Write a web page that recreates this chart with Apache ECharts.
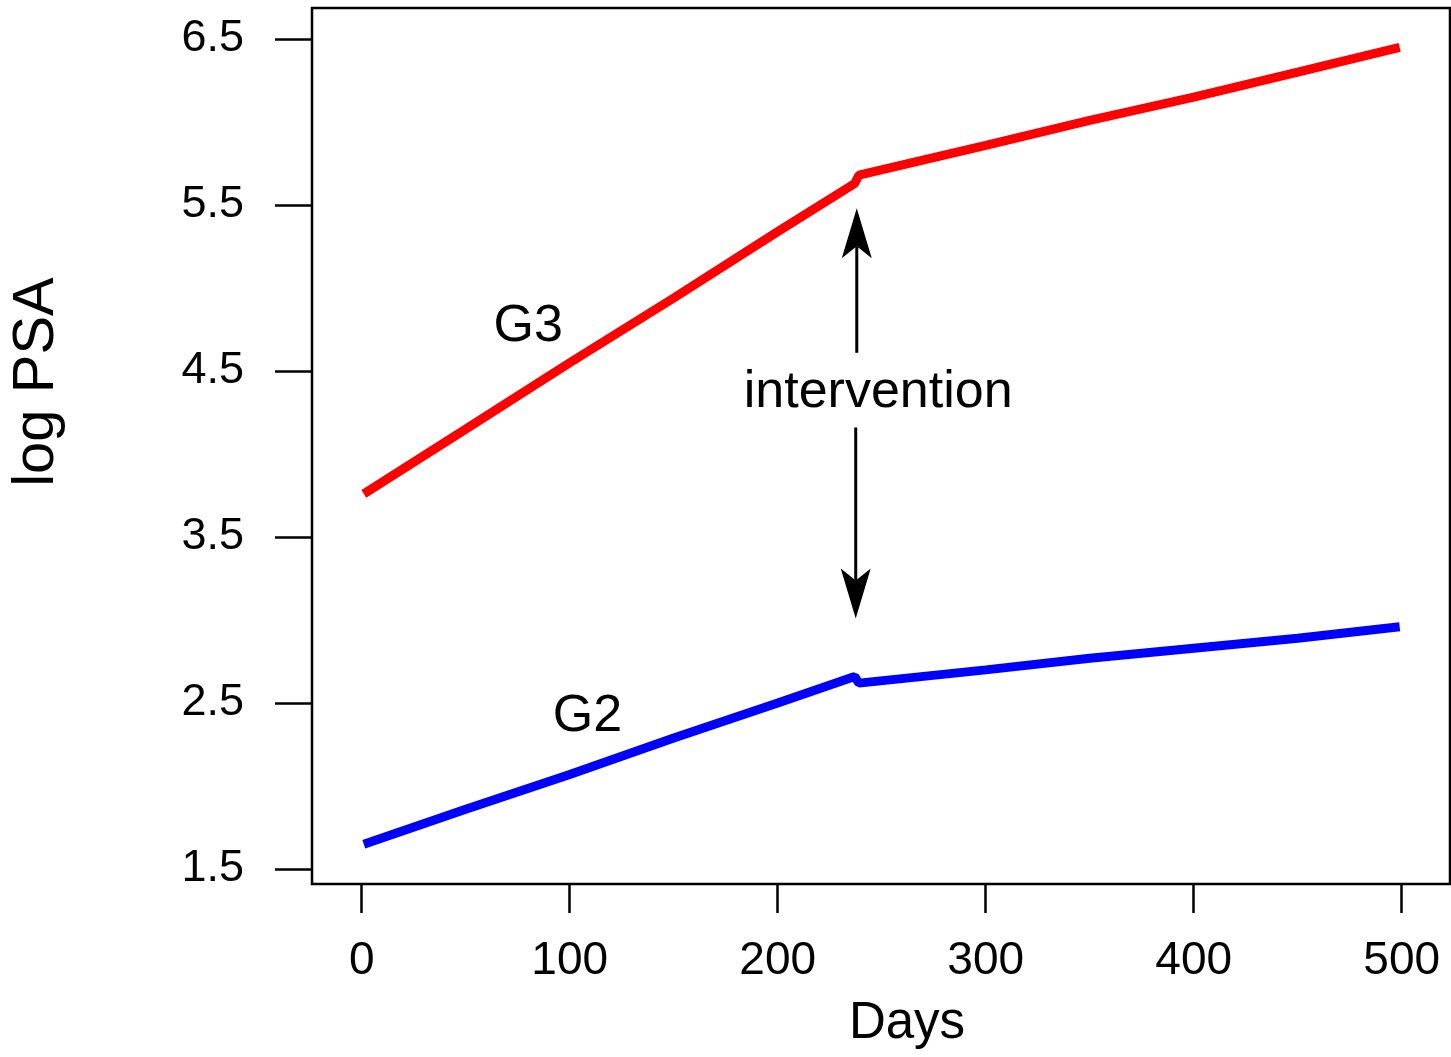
<!DOCTYPE html>
<html>
<head>
<meta charset="utf-8">
<script src="https://cdn.jsdelivr.net/npm/echarts@6/dist/echarts.min.js"></script>
<style>
  html, body { margin: 0; padding: 0; background: #fff; }
  #chart { width: 1451px; height: 1057px; }
</style>
</head>
<body>
<div id="chart"></div>
<script>
// values (day, log PSA)
const days = [1, 50, 100, 150, 200, 237, 239, 300, 350, 400, 450, 499];
const g3Values = [3.76, 4.15, 4.55, 4.94, 5.34, 5.63, 5.68, 5.86, 6.01, 6.15, 6.30, 6.45];
const g2Values = [1.65, 1.86, 2.07, 2.29, 2.50, 2.66, 2.62, 2.70, 2.77, 2.83, 2.89, 2.96];

const xTicks = [0, 100, 200, 300, 400, 500];
const yTicks = [1.5, 2.5, 3.5, 4.5, 5.5, 6.5];

// text notes inside the plot
const noteText = ['G3', 'G2', 'intervention'];
const noteDay = [80, 108.5, 248.3];
const noteValue = [4.77, 2.42, 4.37];

// arrows pointing at the intervention
const arrowDay = [238, 237.5];
const arrowFrom = [4.61, 4.16];
const arrowTo = [5.48, 3.01];

const tickFont = '"Liberation Sans Narrow", "Arial Narrow", "Liberation Sans", sans-serif';
const textFont = '"Liberation Sans", Arial, sans-serif';

const chart = echarts.init(document.getElementById('chart'));

const renderArrow = (params, api) => {
  const p0 = api.coord([api.value(0), api.value(1)]);
  const p1 = api.coord([api.value(0), api.value(2)]);
  const dx = p1[0] - p0[0];
  const dy = p1[1] - p0[1];
  const len = Math.sqrt(dx * dx + dy * dy);
  const ux = dx / len, uy = dy / len;
  const headLen = 50, headHalf = 15, notch = 38;
  const back = (d, side) => [p1[0] - ux * d - uy * side, p1[1] - uy * d + ux * side];
  return {
    type: 'group',
    children: [
      {
        type: 'line',
        shape: { x1: p0[0], y1: p0[1], x2: back(notch, 0)[0], y2: back(notch, 0)[1] },
        style: { stroke: '#000', lineWidth: 3 }
      },
      {
        type: 'polygon',
        shape: { points: [p1, back(headLen, headHalf), back(notch, 0), back(headLen, -headHalf)] },
        style: { fill: '#000' }
      }
    ]
  };
};

const option = {
  animation: false,
  backgroundColor: '#fff',
  grid: {
    left: 312,
    top: 8,
    width: 1138,
    height: 876,
    show: true,
    borderColor: '#000',
    borderWidth: 2.5,
    backgroundColor: 'transparent'
  },
  xAxis: {
    type: 'value',
    min: -23.9,
    max: 523.2,
    splitLine: { show: false },
    axisLine: { show: false, onZero: false },
    axisTick: {
      show: true,
      customValues: xTicks,
      length: 29,
      lineStyle: { color: '#000', width: 2.5 }
    },
    axisLabel: {
      customValues: xTicks,
      margin: 54,
      color: '#000',
      fontSize: 46,
      fontFamily: tickFont
    }
  },
  yAxis: {
    type: 'value',
    min: 1.41,
    max: 6.687,
    splitLine: { show: false },
    axisLine: { show: false, onZero: false },
    axisTick: {
      show: true,
      customValues: yTicks,
      length: 37,
      lineStyle: { color: '#000', width: 2.5 }
    },
    axisLabel: {
      customValues: yTicks,
      margin: 68,
      color: '#000',
      fontSize: 45,
      fontFamily: tickFont,
      formatter: v => v.toFixed(1)
    }
  },
  graphic: [
    {
      type: 'text',
      x: 37,
      y: 382,
      rotation: Math.PI / 2,
      style: {
        text: 'log PSA',
        fontSize: 58,
        fontFamily: textFont,
        fill: '#000',
        align: 'center',
        verticalAlign: 'middle'
      }
    },
    {
      type: 'text',
      x: 907,
      y: 1024,
      style: {
        text: 'Days',
        fontSize: 51,
        fontFamily: textFont,
        fill: '#000',
        align: 'center',
        verticalAlign: 'middle'
      }
    }
  ],
  series: [
    {
      name: 'G3',
      type: 'line',
      showSymbol: false,
      data: days.map((d, i) => [d, g3Values[i]]),
      lineStyle: { color: '#ff0000', width: 9 },
      itemStyle: { color: '#ff0000' }
    },
    {
      name: 'G2',
      type: 'line',
      showSymbol: false,
      data: days.map((d, i) => [d, g2Values[i]]),
      lineStyle: { color: '#0000ff', width: 9 },
      itemStyle: { color: '#0000ff' }
    },
    {
      name: 'notes',
      type: 'scatter',
      symbolSize: 0,
      itemStyle: { opacity: 1 },
      emphasis: { disabled: true },
      data: noteText.map((t, i) => ({ value: [noteDay[i], noteValue[i]], name: t })),
      label: {
        show: true,
        position: 'inside',
        formatter: p => p.name,
        color: '#000',
        opacity: 1,
        fontSize: 52,
        fontFamily: textFont
      }
    },
    {
      name: 'arrows',
      type: 'custom',
      renderItem: renderArrow,
      data: arrowDay.map((d, i) => [d, arrowFrom[i], arrowTo[i]])
    }
  ]
};

chart.setOption(option);
</script>
</body>
</html>
